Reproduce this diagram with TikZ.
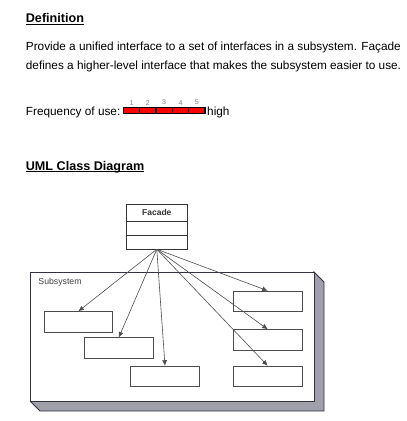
\documentclass[tikz,border=0pt]{standalone}
\usepackage{fontspec}
\setmainfont{Liberation Sans}
\usepackage{tikz}
\usetikzlibrary{positioning, arrows.meta, calc}
\definecolor{shadowgray}{RGB}{160,160,170}
\definecolor{frame}{RGB}{50,50,66}

\begin{document}
\begin{tikzpicture}[x=1bp, y=-1bp,
            >={Latex[length=5.5bp, width=5bp]},
            heading/.style={anchor=base west, inner sep=0pt, font=\fontsize{12.6bp}{15bp}\selectfont\bfseries},
            body/.style={anchor=base west, inner sep=0pt, font=\fontsize{11.8bp}{14bp}\selectfont},
            seg/.style={draw=black, fill=red, line width=1.4bp, minimum width=16.3bp, minimum height=5.6bp, inner sep=0pt, outer sep=0pt},
            num/.style={font=\fontsize{7bp}{8bp}\selectfont, text=gray, inner sep=0pt},
            part/.style={draw=black!80, line width=0.8bp, minimum width=60.3bp, inner sep=0pt, outer sep=0pt},
            cls/.style={draw=black!70, line width=0.8bp, fill=white, minimum width=68.7bp, minimum height=20.7bp, inner sep=0pt},
            link/.style={->, draw=black!70, line width=0.6bp},
        ]
        \useasboundingbox (0,0) rectangle (407,421);

        \node[heading] (def) at (25.7,22.7) {Definition};
        \draw[line width=0.9bp] ([yshift=-1.6bp]def.base west) -- ([yshift=-1.6bp]def.base east);
        \node[body] (desc1) at (25.7,50) {Provide a unified interface to a set of interfaces in a subsystem. Façade};
        \node[body] (desc2) at (25.7,69.3) {defines a higher-level interface that makes the subsystem easier to use.};

        \node[body] (freq) at (25.7,115.5) {Frequency of use:};
        \foreach \i in {1,...,5} {
            \node[seg] (s\i) at ({123.3+(\i-0.5)*16.34},110.5) {};
            \node[num, above=2.5bp of s\i] {\i};
        }
        \node[body] (high) at (207,115.5) {high};

        \node[heading] (uml) at (25.7,170) {UML Class Diagram};
        \draw[line width=0.9bp] ([yshift=-1.8bp]uml.base west) -- ([yshift=-1.8bp]uml.base east);

        \node[part, minimum height=16.7bp, font=\fontsize{8.5bp}{10bp}\selectfont\bfseries, text=black!80] (facade) at (156.8,212.6) {Facade};
        \node[part, minimum height=14bp, below=0pt of facade] (facadeattr) {};
        \node[part, minimum height=14.3bp, below=0pt of facadeattr] (facadeops) {};

        \fill[shadowgray] (313.5,271.5) -- (324,282) -- (324,411) -- (40,411) -- (30,401) -- (313.5,401) -- cycle;
        \draw[frame, line width=0.8bp] (313.5,271.5) -- (324,282) -- (324,411) -- (40,411) -- (30,401);
        \node[draw=frame, line width=0.8bp, fill=white, minimum width=283.5bp, minimum height=129.5bp, anchor=north west, inner sep=0pt] (subsystem) at (30,271.5) {};
        \node[anchor=west, inner sep=0pt, font=\fontsize{8.7bp}{10bp}\selectfont, text=black!75] (sublabel) at (38.3,282.7) {Subsystem};

        \node[cls] (c1) at (78.4,322) {};
        \node[cls] (c2) at (118.8,348.2) {};
        \node[cls] (c3) at (165,376.5) {};
        \node[cls] (c4) at (267.7,301.5) {};
        \node[cls] (c5) at (267.7,340) {};
        \node[cls] (c6) at (267.7,376.5) {};

        \foreach \c in {c1,c2,c3,c4,c5,c6}
            \draw[link] (facadeops.south) -- (\c.north);

    \end{tikzpicture}
\end{document}
